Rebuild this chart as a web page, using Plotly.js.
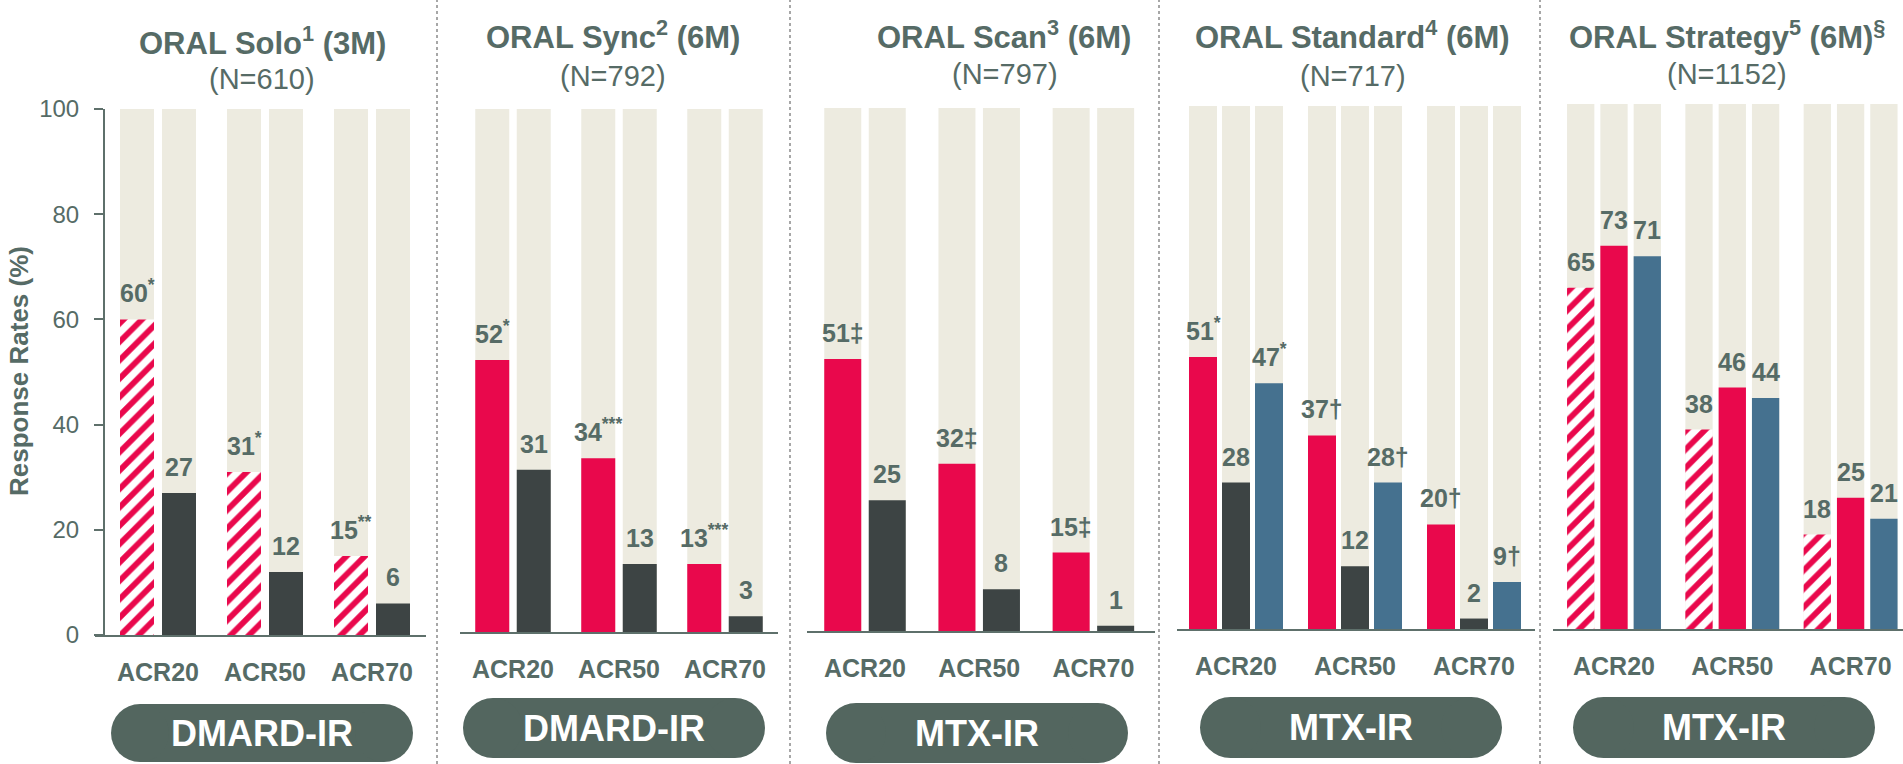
<!DOCTYPE html>
<html><head><meta charset="utf-8">
<script src="https://cdn.plot.ly/plotly-3.0.1.min.js"></script>
<style>html,body{margin:0;padding:0;background:#fff;overflow:hidden}#chart{width:1903px;height:764px}</style>
</head><body><div id="chart"></div>
<script>
// ---------- data ----------
const categories = ['ACR20', 'ACR50', 'ACR70'];
const fullScale = [100, 100, 100];
const yTickVals = [0, 20, 40, 60, 80, 100];
const yAxisTitle = 'Response Rates (%)';

const panelTitles = ['ORAL Solo<sup>1</sup> (3M)', 'ORAL Sync<sup>2</sup> (6M)', 'ORAL Scan<sup>3</sup> (6M)', 'ORAL Standard<sup>4</sup> (6M)', 'ORAL Strategy<sup>5</sup> (6M)<sup>§</sup>'];
const panelN = ['(N=610)', '(N=792)', '(N=797)', '(N=717)', '(N=1152)'];
const populations = ['DMARD-IR', 'DMARD-IR', 'MTX-IR', 'MTX-IR', 'MTX-IR'];

const soloTofaMono = [60, 31, 15];
const soloPlacebo = [27, 12, 6];
const soloTofaMonoLabels = ['60<sup>*</sup>', '31<sup>*</sup>', '15<sup>**</sup>'];
const soloPlaceboLabels = ['27', '12', '6'];

const syncTofaDmard = [52, 33.2, 13];
const syncPlacebo = [31, 13, 3];
const syncTofaDmardLabels = ['52<sup>*</sup>', '34<sup>***</sup>', '13<sup>***</sup>'];
const syncPlaceboLabels = ['31', '13', '3'];

const scanTofaMtx = [52, 32, 15];
const scanPlacebo = [25, 8, 1];
const scanTofaMtxLabels = ['51‡', '32‡', '15‡'];
const scanPlaceboLabels = ['25', '8', '1'];

const standardTofaMtx = [52, 37, 20];
const standardPlacebo = [28, 12, 2];
const standardAdaMtx = [47, 28, 9];
const standardTofaMtxLabels = ['51<sup>*</sup>', '37†', '20†'];
const standardPlaceboLabels = ['28', '12', '2'];
const standardAdaMtxLabels = ['47<sup>*</sup>', '28†', '9†'];

const strategyTofaMono = [65, 38, 18];
const strategyTofaMtx = [73, 46, 25];
const strategyAdaMtx = [71, 44, 21];
const strategyTofaMonoLabels = ['65', '38', '18'];
const strategyTofaMtxLabels = ['73', '46', '25'];
const strategyAdaMtxLabels = ['71', '44', '21'];

// ---------- styles ----------
const W = 1903, H = 764;
const FONT = 'Liberation Sans, Arial, sans-serif';
const C = {
  red: '#E9084C', dark: '#3D4444', blue: '#45718F', beige: '#EDEBE0',
  text: '#566B66', axis: '#5E706B', pill: '#53665F', sep: '#8a8a8a'
};
const HATCH = 'hatch', RED = 'red', DARK = 'dark', BLUE = 'blue';

const panels = [
  { dom: [95, 426], c0: 158, step: 107, bw: 34, gap: 8, yTop: 109, yBase: 635,
    title: [262, 41], n: [262, 79], pill: [111, 413, 704, 762],
    series: [[soloTofaMono, soloTofaMonoLabels, HATCH], [soloPlacebo, soloPlaceboLabels, DARK]] },
  { dom: [460, 778], c0: 513, step: 106, bw: 34, gap: 7.5, yTop: 109, yBase: 632,
    title: [613, 35], n: [613, 76], pill: [463, 765, 698, 758],
    series: [[syncTofaDmard, syncTofaDmardLabels, RED], [syncPlacebo, syncPlaceboLabels, DARK]] },
  { dom: [807, 1155], c0: 865, step: 114.2, bw: 37, gap: 7.5, yTop: 108, yBase: 631,
    title: [1004, 35], n: [1005, 74], pill: [826, 1128, 703, 763],
    series: [[scanTofaMtx, scanTofaMtxLabels, RED], [scanPlacebo, scanPlaceboLabels, DARK]] },
  { dom: [1177, 1535], c0: 1236, step: 119, bw: 28, gap: 5, yTop: 106, yBase: 629,
    title: [1352, 35], n: [1353, 76], pill: [1200, 1502, 697, 758],
    series: [[standardTofaMtx, standardTofaMtxLabels, RED], [standardPlacebo, standardPlaceboLabels, DARK], [standardAdaMtx, standardAdaMtxLabels, BLUE]] },
  { dom: [1553, 1903], c0: 1614, step: 118.3, bw: 27.3, gap: 6, yTop: 104, yBase: 629,
    title: [1727, 35], n: [1727, 74], pill: [1573, 1875, 697, 758],
    series: [[strategyTofaMono, strategyTofaMonoLabels, HATCH], [strategyTofaMtx, strategyTofaMtxLabels, RED], [strategyAdaMtx, strategyAdaMtxLabels, BLUE]] }
];
const separators = [437, 790, 1159, 1540];

const px = v => v / W;
const py = v => 1 - v / H;

function markerFor(kind) {
  if (kind === HATCH) return { color: '#ffffff', line: { width: 0 },
    pattern: { shape: '/', fgcolor: C.red, bgcolor: '#ffffff', size: 13, solidity: 0.45, fgopacity: 1 } };
  return { color: kind === RED ? C.red : kind === DARK ? C.dark : C.blue, line: { width: 0 } };
}

const bgTraces = [], valTraces = [], annotations = [], shapes = [];
const layout = {
  width: W, height: H, margin: { l: 0, r: 0, t: 0, b: 0 },
  paper_bgcolor: '#fff', plot_bgcolor: 'rgba(0,0,0,0)',
  barmode: 'overlay', showlegend: false, hovermode: false,
  font: { family: FONT, color: C.text }
};

panels.forEach((p, i) => {
  const k = i === 0 ? '' : String(i + 1);
  const xa = 'x' + k, ya = 'y' + k;
  const r0 = -(p.c0 - p.dom[0]) / p.step;
  const r1 = (p.dom[1] - p.c0) / p.step;
  layout['xaxis' + k] = {
    domain: [px(p.dom[0]), px(p.dom[1])], anchor: ya, type: 'category',
    range: [r0, r1], showline: true, linecolor: C.axis, linewidth: 2,
    ticks: '', ticklen: 0, showgrid: false, zeroline: false, fixedrange: true,
    tickfont: { family: FONT, size: 25, color: C.text, weight: 'bold' },
    ticklabelstandoff: 14
  };
  const yax = {
    domain: [py(p.yBase), py(p.yTop)], range: [0, 100], fixedrange: true,
    showgrid: false, zeroline: false
  };
  if (i === 0) {
    Object.assign(yax, {
      anchor: 'free', position: px(104), showline: true, linecolor: C.axis, linewidth: 2,
      ticks: 'outside', ticklen: 9, tickwidth: 2, tickcolor: C.axis,
      tickvals: yTickVals, tickfont: { family: FONT, size: 24, color: C.text },
      ticklabelstandoff: 10
    });
  } else {
    Object.assign(yax, { anchor: xa, visible: false });
  }
  layout['yaxis' + k] = yax;

  const n = p.series.length;
  const total = n * p.bw + (n - 1) * p.gap;
  const w = p.bw / p.step;
  p.series.forEach((s, j) => {
    const off = (-total / 2 + j * (p.bw + p.gap)) / p.step;
    bgTraces.push({ type: 'bar', x: categories, y: fullScale, xaxis: xa, yaxis: ya,
      width: w, offset: off, marker: { color: C.beige, line: { width: 0 } }, hoverinfo: 'skip' });
    valTraces.push({ type: 'bar', x: categories, y: s[0], xaxis: xa, yaxis: ya,
      width: w, offset: off, marker: markerFor(s[2]), hoverinfo: 'skip' });
    s[0].forEach((v, ci) => {
      annotations.push({ xref: xa, yref: ya, x: ci + off + w / 2, y: v,
        text: '<b>' + s[1][ci] + '</b>', showarrow: false, xanchor: 'center', yanchor: 'bottom',
        yshift: 10, font: { family: FONT, size: 25, color: C.text } });
    });
  });

  annotations.push({ xref: 'paper', yref: 'paper', x: px(p.title[0]), y: py(p.title[1]),
    text: '<b>' + panelTitles[i] + '</b>', showarrow: false, xanchor: 'center', yanchor: 'middle',
    font: { family: FONT, size: 31, color: C.text } });
  annotations.push({ xref: 'paper', yref: 'paper', x: px(p.n[0]), y: py(p.n[1]),
    text: panelN[i], showarrow: false, xanchor: 'center', yanchor: 'middle',
    font: { family: FONT, size: 29, color: C.text } });

  // pill
  const [x0, x1, y0, y1] = p.pill;
  const r = (y1 - y0) / 2;
  const pillStyle = { fillcolor: C.pill, line: { width: 0 }, layer: 'above', xref: 'paper', yref: 'paper' };
  shapes.push(Object.assign({ type: 'rect', x0: px(x0 + r), x1: px(x1 - r), y0: py(y1), y1: py(y0) }, pillStyle));
  shapes.push(Object.assign({ type: 'circle', x0: px(x0), x1: px(x0 + 2 * r), y0: py(y1), y1: py(y0) }, pillStyle));
  shapes.push(Object.assign({ type: 'circle', x0: px(x1 - 2 * r), x1: px(x1), y0: py(y1), y1: py(y0) }, pillStyle));
  annotations.push({ xref: 'paper', yref: 'paper', x: px((x0 + x1) / 2), y: py((y0 + y1) / 2),
    text: '<b>' + populations[i] + '</b>', showarrow: false, xanchor: 'center', yanchor: 'middle',
    font: { family: FONT, size: 36, color: '#ffffff' } });
});

separators.forEach(x => shapes.push({ type: 'line', xref: 'paper', yref: 'paper',
  x0: px(x), x1: px(x), y0: 0, y1: 1, line: { color: C.sep, width: 1.5, dash: 'dot' } }));

annotations.push({ xref: 'paper', yref: 'paper', x: px(19), y: py(371), textangle: -90,
  text: '<b>' + yAxisTitle + '</b>', showarrow: false, xanchor: 'center', yanchor: 'middle',
  font: { family: FONT, size: 26, color: C.text } });

layout.annotations = annotations;
layout.shapes = shapes;

Plotly.newPlot('chart', bgTraces.concat(valTraces), layout, { displayModeBar: false, staticPlot: true });
</script>
</body></html>
